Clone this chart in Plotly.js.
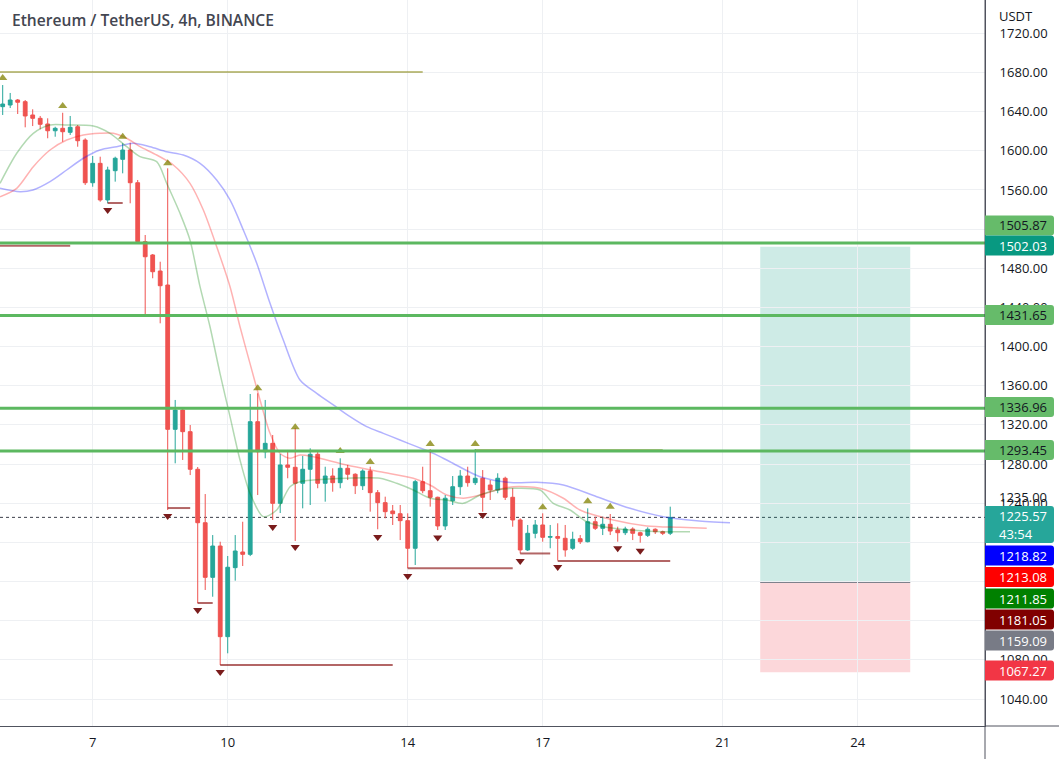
<!DOCTYPE html>
<html><head><meta charset="utf-8">
<script src="https://cdn.plot.ly/plotly-3.0.1.min.js"></script>
<style>html,body{margin:0;padding:0;background:#fff}#chart{width:1059px;height:759px}</style>
</head><body><div id="chart"></div>
<script>
// ---------- DATA ----------
const chartTitle = 'Ethereum / TetherUS, 4h, BINANCE';
const firstCandle = Date.UTC(2022, 10, 5, 0, 0); // 4h candles from 5 Nov 2022
const candleOpen  = [1645.1,1646.8,1651.9,1650.2,1636.6,1633.2,1627.4,1620.5,1623.0,1618.9,1624.6,1611.0,1567.4,1587.2,1549.8,1579.7,1591.3,1600.8,1567.4,1507.2,1493.6,1477.2,1462.9,1315.5,1335.2,1313.1,1274.7,1220.1,1164.3,1196.3,1103.7,1174.2,1190.2,1187.8,1323.3,1292.6,1301.2,1239.9,1279.1,1276.7,1260.4,1274.7,1290.0,1260.4,1267.8,1261.0,1275.7,1269.6,1257.9,1272.9,1250.8,1240.6,1232.1,1229.3,1222.2,1194.0,1262.0,1252.8,1246.1,1216.8,1242.6,1256.9,1267.8,1261.0,1265.5,1258.6,1253.5,1265.5,1246.1,1222.9,1192.3,1209.3,1217.8,1205.2,1206.0,1204.2,1194.0,1203.8,1200.7,1221.1,1214.4,1218.5,1212.7,1209.9,1213.7,1209.9,1207.2,1213.4,1210.9,1209.3];
const candleHigh  = [1667.2,1659.1,1652.9,1651.9,1642.4,1635.6,1633.2,1624.6,1638.9,1635.6,1626.4,1612.8,1594.7,1594.0,1583.8,1594.0,1607.7,1608.3,1570.2,1514.0,1494.6,1486.7,1582.1,1345.5,1336.3,1319.9,1277.0,1249.4,1207.5,1200.7,1186.1,1207.5,1221.1,1351.6,1352.3,1345.5,1309.7,1290.3,1294.4,1316.9,1288.3,1296.1,1292.6,1277.3,1275.7,1285.9,1279.1,1270.6,1274.7,1277.3,1253.5,1246.7,1238.2,1238.2,1229.7,1263.7,1277.3,1295.4,1246.7,1248.4,1267.8,1273.9,1277.3,1295.4,1273.9,1263.7,1270.6,1267.1,1255.3,1224.6,1217.8,1222.9,1229.7,1217.8,1219.5,1217.8,1210.9,1207.5,1234.8,1226.2,1226.2,1229.0,1216.0,1216.0,1215.4,1210.9,1215.4,1214.4,1212.0,1236.5];
const candleLow   = [1636.6,1643.7,1637.6,1624.0,1625.3,1622.0,1612.8,1614.4,1609.3,1616.2,1604.2,1565.1,1563.3,1548.0,1546.4,1568.5,1577.0,1546.4,1505.5,1432.3,1469.8,1423.8,1233.1,1280.8,1284.2,1268.8,1137.8,1151.4,1144.5,1074.8,1086.7,1160.9,1175.9,1186.0,1248.4,1285.9,1222.9,1230.0,1265.5,1201.4,1234.8,1238.2,1255.3,1241.6,1251.8,1255.3,1263.7,1249.4,1253.5,1231.4,1213.4,1224.6,1217.8,1202.4,1173.5,1176.9,1250.2,1236.5,1212.7,1212.7,1238.2,1248.4,1256.9,1258.6,1231.4,1243.3,1250.2,1243.3,1216.0,1188.7,1191.2,1204.2,1200.7,1194.0,1181.5,1185.4,1192.3,1198.4,1200.0,1212.7,1207.5,1207.5,1200.7,1207.5,1202.4,1199.7,1205.5,1208.6,1207.5,1207.5];
const candleClose = [1647.8,1651.9,1649.6,1635.6,1633.2,1627.1,1620.5,1623.0,1619.5,1624.0,1610.3,1567.4,1587.2,1549.8,1580.4,1592.4,1600.8,1567.4,1507.2,1491.8,1476.5,1462.2,1315.5,1335.2,1313.1,1274.7,1220.1,1164.3,1196.3,1103.7,1174.6,1191.2,1187.8,1323.3,1292.6,1301.2,1239.9,1279.1,1276.7,1260.4,1274.7,1290.0,1260.4,1267.8,1261.0,1275.7,1269.6,1257.9,1272.9,1250.8,1240.6,1231.4,1229.3,1222.2,1194.0,1262.0,1252.8,1246.1,1216.8,1245.1,1256.9,1267.8,1261.0,1265.5,1246.1,1253.5,1265.5,1246.1,1222.9,1192.3,1209.3,1217.8,1205.2,1206.0,1204.2,1192.3,1203.2,1200.7,1221.1,1214.4,1218.5,1211.6,1209.9,1213.7,1209.3,1207.2,1213.4,1210.9,1209.3,1225.57];

// moving averages (positions in candle index)
const maBlueIdx = [-0.36,2.31,4.04,6.31,8.53,10.75,12.97,15.2,17.41,19.64,21.87,24.08,26.31,28.53,30.31,32.08,33.87,35.64,37.41,39.64,41.87,44.08,46.31,48.53,50.75,52.97,55.2,57.41,59.64,63.64,68.08,71.2,74.75,79.2,83.64,88.08,92.53,96.97];
const maBlue    = [1561.7,1558.2,1560.0,1568.5,1580.4,1592.4,1600.8,1604.2,1607.7,1604.2,1599.1,1595.7,1587.2,1570.2,1549.8,1519.1,1485.1,1444.2,1406.7,1365.9,1352.3,1340.4,1328.4,1318.2,1311.4,1304.6,1297.8,1291.0,1282.4,1267.1,1261.0,1261.4,1258.6,1246.7,1234.8,1226.3,1222.2,1220.1];
const maRedIdx  = [-0.36,1.87,4.08,6.31,8.53,10.75,12.97,14.75,16.53,18.31,20.53,22.75,24.97,26.75,28.53,30.31,31.64,32.97,34.31,35.64,36.97,38.31,39.64,41.41,45.87,50.31,54.75,56.97,59.2,61.41,63.64,65.87,68.08,71.64,74.75,76.97,81.41,85.87,90.31,93.87];
const maRed     = [1553.1,1561.7,1583.8,1600.8,1611.0,1616.2,1617.9,1617.9,1612.8,1604.2,1595.7,1585.5,1566.8,1539.5,1502.1,1461.2,1420.3,1382.9,1345.5,1311.4,1291.0,1285.9,1289.3,1287.5,1279.1,1272.2,1265.5,1258.6,1248.4,1245.1,1248.4,1253.5,1256.9,1255.3,1245.1,1233.1,1222.9,1216.8,1215.4,1214.4];
const maGreenIdx= [-0.36,1.87,4.08,6.31,8.53,12.08,14.31,16.53,18.31,20.53,21.87,23.64,24.97,26.31,27.64,28.97,30.31,31.64,32.97,34.75,36.53,38.31,39.64,41.41,45.87,50.31,52.53,54.75,56.97,59.2,61.41,63.64,65.87,68.08,71.64,73.41,75.64,77.87,80.08,83.64,88.08,91.64];
const maGreen   = [1566.8,1597.5,1617.9,1626.4,1626.4,1625.3,1617.9,1604.2,1594.0,1588.9,1566.8,1536.2,1508.9,1461.2,1420.3,1372.7,1328.4,1284.2,1250.2,1226.3,1233.1,1256.9,1262.0,1263.7,1265.5,1265.5,1260.4,1253.5,1245.1,1243.3,1239.9,1248.4,1253.5,1255.3,1253.5,1239.9,1233.1,1221.1,1216.0,1212.7,1210.9,1210.9];

// pivot markers
const pivotHighIdx  = [0,8,16,22,34,39,45,49,57,63,72,78,81];
const pivotHighMark = [1674.4,1645.8,1614.4,1587.2,1357.4,1317.6,1293.4,1282.1,1300.5,1300.5,1235.9,1242.0,1236.5];
const pivotLowIdx   = [14,22,26,29,36,39,50,54,58,64,69,74,82,85];
const pivotLowMark  = [1539.5,1226.9,1130.9,1067.6,1215.7,1195.3,1205.5,1165.7,1205.0,1228.0,1181.0,1174.9,1194.0,1191.5];
// pivot level lines: start idx, end idx, price
const pivotLowStart = [-1,14,19,22,26,29,54,69,74];
const pivotLowEnd   = [9,16,22,25,28,52,68,73,89];
const pivotLowLevel = [1503.1,1546.7,1432.3,1235.1,1138.1,1074.8,1173.5,1188.7,1181.05];
const pivotHighStart= [-1,63];
const pivotHighEnd  = [56,88];
const pivotHighLevel= [1680.5,1294.5];

// drawn horizontal levels
const levelLines = [1505.87,1431.65,1336.96,1293.45];
const lastPrice = 1225.57;
// long position tool
const positionStart = 101, positionEnd = 121;
const positionTarget = 1502.03, positionEntry = 1159.09, positionStop = 1067.27;

// axis
const dayTickIdx = [12,30,54,72,96,114];
const dayTickText = ['7','10','14','17','21','24'];
const priceTicks = [1040,1080,1120,1160,1200,1240,1280,1320,1360,1400,1440,1480,1520,1560,1600,1640,1680,1720];
const priceTicksHidden = [1120,1160,1200,1520]; // covered by price tags in the reference

// right-axis price labels
const tagText  = ['1505.87','1502.03','1431.65','1336.96','1293.45','1225.57','1218.82','1213.08','1211.85','1181.05','1159.09','1067.27'];
const countdownText = '43:54';
const extraTickText = '1235.00';
const currencyText = 'USDT';

// ---------- STYLE / LAYOUT ----------
const tagBg   = ['#66bb6a','#089981','#66bb6a','#66bb6a','#66bb6a','#26a69a','#0000ff','#ff0000','#008000','#800000','#787b86','#f23645'];
const tagFg   = ['#131722','#ffffff','#131722','#131722','#131722','#ffffff','#ffffff','#ffffff','#ffffff','#ffffff','#ffffff','#ffffff'];
const tagTop  = [215.5,235.5,305,397,440,506,545.5,567,588.5,609.5,630.5,660.5];
const tagBot  = [235.5,255.5,325,417,460,543,565.5,587,608.5,629.5,650.5,680.5];

const W = 1059, H = 759, PW = 985, PH = 726;
const FONT = 'Open Sans, Noto Sans, sans-serif';
function idxDate(i){ const d = new Date(firstCandle + i*4*3600*1000); return d.toISOString().slice(0,19).replace('T',' '); }
const X = v => v/PW, Y = v => (PH - v)/PH;

const times = candleOpen.map((_,i)=>idxDate(i));
const traces = [];
function maTrace(idx, vals, color){
  return {type:'scatter', mode:'lines', x: idx.map(idxDate), y: vals,
    line:{color, width:1.5, shape:'spline', smoothing:0.8}, hoverinfo:'skip', showlegend:false};
}
traces.push(maTrace(maBlueIdx, maBlue, 'rgba(0,0,255,0.3)'));
traces.push(maTrace(maRedIdx, maRed, 'rgba(255,0,0,0.3)'));
traces.push(maTrace(maGreenIdx, maGreen, 'rgba(0,128,0,0.3)'));
traces.push({type:'candlestick', x: times, open: candleOpen, high: candleHigh, low: candleLow, close: candleClose,
  increasing:{line:{color:'#26a69a', width:1}, fillcolor:'#26a69a'},
  decreasing:{line:{color:'#ef5350', width:1}, fillcolor:'#ef5350'},
  whiskerwidth:0, showlegend:false, hoverinfo:'skip'});
traces.push({type:'scatter', mode:'markers', x: pivotHighIdx.map(idxDate), y: pivotHighMark,
  marker:{symbol:'triangle-up', size:8, color:'rgba(128,128,0,0.75)', line:{width:0}}, showlegend:false, hoverinfo:'skip'});
traces.push({type:'scatter', mode:'markers', x: pivotLowIdx.map(idxDate), y: pivotLowMark,
  marker:{symbol:'triangle-down', size:8, color:'#7a1c1c', line:{width:0}}, showlegend:false, hoverinfo:'skip'});

const shapes = [];
// position tool
shapes.push({type:'rect', layer:'below', xref:'x', yref:'y', x0:idxDate(positionStart), x1:idxDate(positionEnd), y0:positionEntry, y1:positionTarget, fillcolor:'rgba(8,153,129,0.2)', line:{width:0}});
shapes.push({type:'rect', layer:'below', xref:'x', yref:'y', x0:idxDate(positionStart), x1:idxDate(positionEnd), y0:positionStop, y1:positionEntry, fillcolor:'rgba(242,54,69,0.2)', line:{width:0}});
shapes.push({type:'line', layer:'below', xref:'x', yref:'y', x0:idxDate(positionStart), x1:idxDate(positionEnd), y0:positionEntry, y1:positionEntry, line:{color:'#787b86', width:1}});
// last price dotted line
shapes.push({type:'line', layer:'below', xref:'paper', yref:'y', x0:0, x1:1, y0:lastPrice, y1:lastPrice, line:{color:'#3c3f4a', width:1, dash:'dot'}});
// pivot lines
pivotLowLevel.forEach((p,k)=>shapes.push({type:'line', layer:'above', xref:'x', yref:'y', x0:idxDate(pivotLowStart[k]), x1:idxDate(pivotLowEnd[k]), y0:p, y1:p, line:{color:'rgba(128,0,0,0.6)', width:2}}));
pivotHighLevel.forEach((p,k)=>shapes.push({type:'line', layer:'above', xref:'x', yref:'y', x0:idxDate(pivotHighStart[k]), x1:idxDate(pivotHighEnd[k]), y0:p, y1:p, line:{color:'rgba(128,128,0,0.65)', width:1.5}}));
// drawn level lines
levelLines.forEach(p=>shapes.push({type:'line', layer:'above', xref:'paper', yref:'y', x0:0, x1:1, y0:p, y1:p, line:{color:'#5cb860', width:3}}));
// axis line extensions
shapes.push({type:'line', xref:'paper', yref:'paper', x0:1, x1:X(W), y0:0, y1:0, line:{color:'#50535e', width:1}});
shapes.push({type:'line', xref:'paper', yref:'paper', x0:1, x1:1, y0:Y(H), y1:1, line:{color:'#50535e', width:1}});
// USDT cover
shapes.push({type:'rect', xref:'paper', yref:'paper', x0:X(986), x1:X(W), y0:Y(29), y1:Y(0), fillcolor:'#ffffff', line:{width:0}});

function rr(x0,y0,x1,y1,r){
  const a=v=>X(v).toFixed(5), b=v=>Y(v).toFixed(5);
  return `M${a(x0)},${b(y0)} L${a(x1-r)},${b(y0)} Q${a(x1)},${b(y0)} ${a(x1)},${b(y0+r)} L${a(x1)},${b(y1-r)} Q${a(x1)},${b(y1)} ${a(x1-r)},${b(y1)} L${a(x0)},${b(y1)} Z`;
}
const annotations = [];
annotations.push({xref:'paper', yref:'paper', x:X(10), y:Y(20), xanchor:'left', yanchor:'middle', showarrow:false,
  text:chartTitle, font:{family:FONT, size:15.6, weight:600, color:'#434651'}});
annotations.push({xref:'paper', yref:'paper', x:X(997), y:Y(16), xanchor:'left', yanchor:'middle', showarrow:false,
  text:currencyText, font:{family:FONT, size:13, color:'#131722'}});
annotations.push({xref:'paper', yref:'paper', x:X(997), y:Y(497), xanchor:'left', yanchor:'middle', showarrow:false,
  text:extraTickText, font:{family:FONT, size:13, color:'#131722'}});
tagText.forEach((t,k)=>{
  shapes.push({type:'path', xref:'paper', yref:'paper', path:rr(985, tagTop[k], 1054, tagBot[k], 3), fillcolor:tagBg[k], line:{width:0}});
  if (k === 5){
    annotations.push({xref:'paper', yref:'paper', x:X(997), y:Y(516), xanchor:'left', yanchor:'middle', showarrow:false, text:t, font:{family:FONT, size:13, color:tagFg[k]}});
    annotations.push({xref:'paper', yref:'paper', x:X(997), y:Y(534), xanchor:'left', yanchor:'middle', showarrow:false, text:countdownText, font:{family:FONT, size:13, color:tagFg[k]}});
  } else {
    annotations.push({xref:'paper', yref:'paper', x:X(997), y:Y((tagTop[k]+tagBot[k])/2), xanchor:'left', yanchor:'middle', showarrow:false, text:t, font:{family:FONT, size:13, color:tagFg[k]}});
  }
});

const layout = {
  width:W, height:H, margin:{l:0, r:W-PW, t:0, b:H-PH}, paper_bgcolor:'#ffffff', plot_bgcolor:'#ffffff',
  showlegend:false, hovermode:false, dragmode:false, boxgap:0.28,
  font:{family:FONT, size:13, color:'#131722'},
  xaxis:{type:'date', range:[idxDate(-0.36), idxDate(130.97)], rangeslider:{visible:false},
    tickvals: dayTickIdx.map(idxDate), ticktext: dayTickText, ticks:'', ticklabelstandoff:4,
    showgrid:true, gridcolor:'#eef0f3', gridwidth:1, zeroline:false, showline:true, linecolor:'#50535e', linewidth:1,
    tickfont:{family:FONT, size:13, color:'#131722'}, fixedrange:true},
  yaxis:{side:'right', range:[1012.45, 1754.06], tickvals:priceTicks,
    ticktext: priceTicks.map(v => priceTicksHidden.includes(v) ? '' : v.toFixed(2)), ticks:'', ticklabelstandoff:11,
    showgrid:true, gridcolor:'#eef0f3', gridwidth:1, zeroline:false, showline:true, linecolor:'#50535e', linewidth:1,
    tickfont:{family:FONT, size:13, color:'#131722'}, fixedrange:true},
  shapes, annotations
};
Plotly.newPlot('chart', traces, layout, {displayModeBar:false, staticPlot:true});
</script></body></html>
